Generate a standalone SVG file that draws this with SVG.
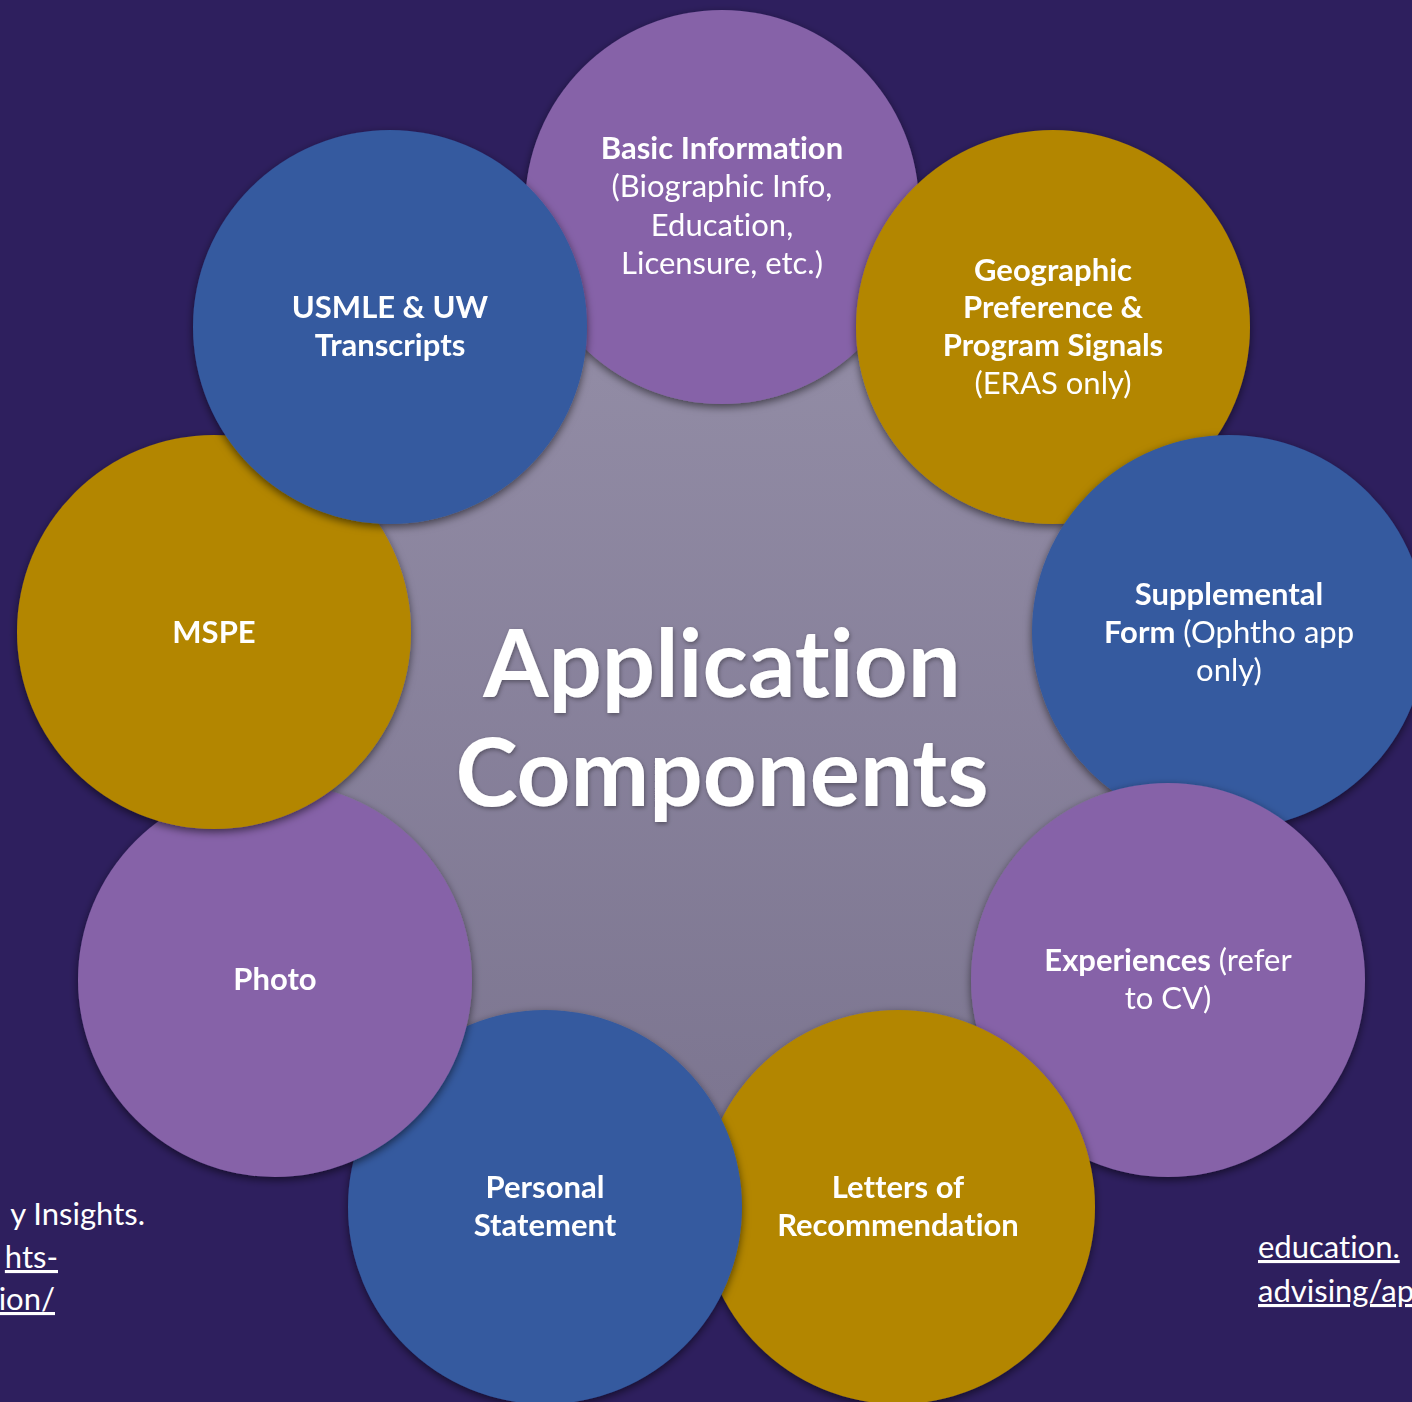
<svg xmlns="http://www.w3.org/2000/svg" width="1412" height="1402" viewBox="0 0 1412 1402">
  <defs>
    <linearGradient id="hub" x1="0" y1="0" x2="0" y2="1">
      <stop offset="0" stop-color="#938da6"/>
      <stop offset="1" stop-color="#7c7590"/>
    </linearGradient>
    <filter id="sh" x="-20%" y="-20%" width="140%" height="140%">
      <feDropShadow dx="0" dy="3" stdDeviation="4" flood-color="#000" flood-opacity="0.55"/>
    </filter>
    <filter id="tsh" x="-10%" y="-10%" width="120%" height="130%">
      <feDropShadow dx="1" dy="2" stdDeviation="2" flood-color="#000" flood-opacity="0.35"/>
    </filter>
  </defs>
  <style>
    text{font-variant-ligatures:none}
    .t{font-family:Lato,"Liberation Sans",sans-serif;fill:#fff;text-anchor:middle;font-size:31px}
    .b{font-weight:bold}
    .title{font-family:Lato,"Liberation Sans",sans-serif;fill:#fff;text-anchor:middle;font-size:94px;font-weight:bold}
    .ref{font-family:Lato,"Liberation Sans",sans-serif;fill:#fff;font-size:31px}
    .purple{fill:#8662a8}
    .blue{fill:#345a9f}
    .gold{fill:#b38600}
  </style>
  <rect width="1412" height="1402" fill="#2e1f5e"/>

  <g id="refs">
    <text class="ref" x="145" y="1225" text-anchor="end">y Insights.</text>
    <text class="ref" x="58" y="1268" text-anchor="end" text-decoration="underline">hts-</text>
    <text class="ref" x="55" y="1310" text-anchor="end" text-decoration="underline">ion/</text>
    <text class="ref" x="1258" y="1258" text-decoration="underline">education.</text>
    <text class="ref" x="1258" y="1302" text-decoration="underline">advising/ap</text>
  </g>

  <g id="hub-node">
    <circle cx="722" cy="718" r="420" fill="url(#hub)"/>
    <g filter="url(#tsh)">
      <text class="title" x="722" y="697">Application</text>
      <text class="title" x="722" y="806">Components</text>
    </g>
  </g>

  <g id="connectors"></g>

  <g id="basic" filter="url(#sh)">
    <circle class="purple" cx="722" cy="207" r="197"/>
    <text class="t b" x="722" y="159">Basic Information</text>
    <text class="t" x="722" y="197">(Biographic Info,</text>
    <text class="t" x="722" y="236">Education,</text>
    <text class="t" x="722" y="274">Licensure, etc.)</text>
  </g>
  <g id="geographic" filter="url(#sh)">
    <circle class="gold" cx="1053" cy="327" r="197"/>
    <text class="t b" x="1053" y="281">Geographic</text>
    <text class="t b" x="1053" y="318">Preference &amp;</text>
    <text class="t b" x="1053" y="356">Program Signals</text>
    <text class="t" x="1053" y="394">(ERAS only)</text>
  </g>
  <g id="supplemental" filter="url(#sh)">
    <circle class="blue" cx="1229" cy="632" r="197"/>
    <text class="t b" x="1229" y="605">Supplemental</text>
    <text class="t" x="1229" y="643"><tspan class="b">Form</tspan> (Ophtho app</text>
    <text class="t" x="1229" y="681">only)</text>
  </g>
  <g id="experiences" filter="url(#sh)">
    <circle class="purple" cx="1168" cy="980" r="197"/>
    <text class="t" x="1168" y="971"><tspan class="b">Experiences</tspan> (refer</text>
    <text class="t" x="1168" y="1009">to CV)</text>
  </g>
  <g id="letters" filter="url(#sh)">
    <circle class="gold" cx="898" cy="1207" r="197"/>
    <text class="t b" x="898" y="1198">Letters of</text>
    <text class="t b" x="898" y="1236">Recommendation</text>
  </g>
  <g id="personal" filter="url(#sh)">
    <circle class="blue" cx="545" cy="1207" r="197"/>
    <text class="t b" x="545" y="1198">Personal</text>
    <text class="t b" x="545" y="1236">Statement</text>
  </g>
  <g id="photo" filter="url(#sh)">
    <circle class="purple" cx="275" cy="980" r="197"/>
    <text class="t b" x="275" y="990">Photo</text>
  </g>
  <g id="mspe" filter="url(#sh)">
    <circle class="gold" cx="214" cy="632" r="197"/>
    <text class="t b" x="214" y="643">MSPE</text>
  </g>
  <g id="usmle" filter="url(#sh)">
    <circle class="blue" cx="390" cy="327" r="197"/>
    <text class="t b" x="390" y="318">USMLE &amp; UW</text>
    <text class="t b" x="390" y="356">Transcripts</text>
  </g>
</svg>
